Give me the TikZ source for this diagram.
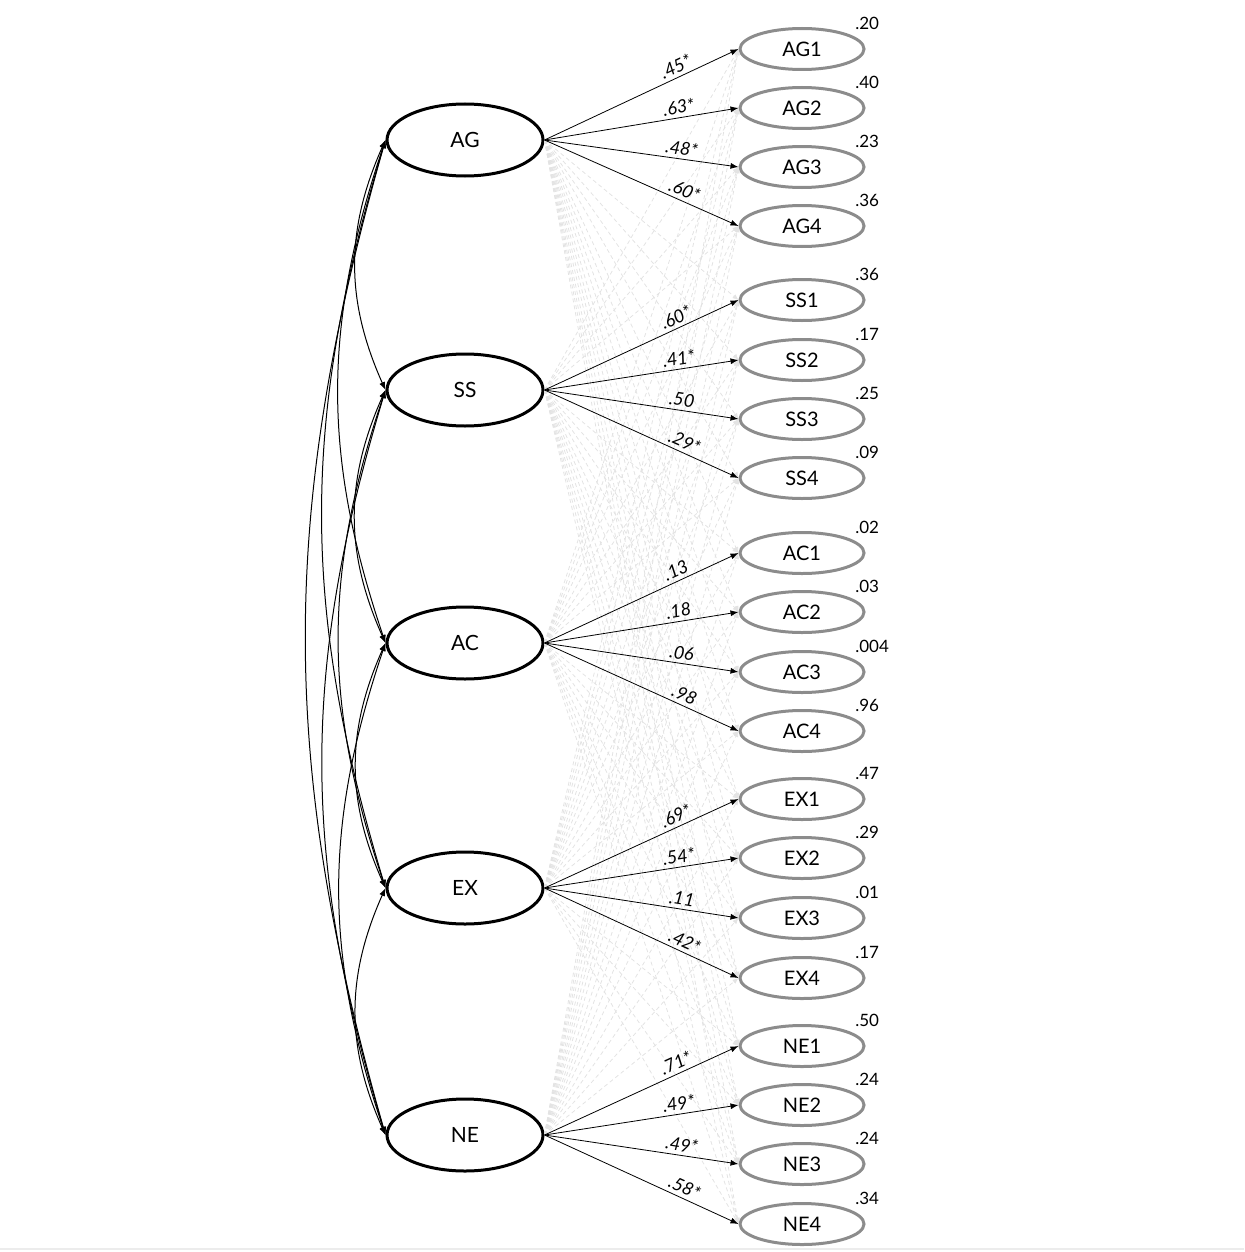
\documentclass[tikz,border=0pt]{standalone}
\usepackage{fontspec}
\setmainfont{Lato}
\usetikzlibrary{arrows.meta, bending, shapes.geometric}
\tikzstyle{sem}=[x=0.5pt, y=-0.5pt, >={Latex[length=4pt,width=3pt]}]
\tikzstyle{latent}=[ellipse, draw, line width=1.5pt, minimum width=78pt, minimum height=36pt, inner sep=0pt, font=\fontsize{10.5}{12}\selectfont]
\tikzstyle{manifest}=[ellipse, draw=black!45, line width=1.5pt, minimum width=62pt, minimum height=20.5pt, inner sep=0pt, font=\fontsize{10}{12}\selectfont]
\tikzstyle{load}=[font=\fontsize{9}{10}\selectfont\itshape, sloped, pos=.7, inner sep=0.5pt, outer sep=1.5pt]
\tikzstyle{rsq}=[font=\fontsize{8.5}{10}\selectfont, inner sep=0pt, xshift=4pt, yshift=1.5pt]
\tikzstyle{cross}=[draw=gray!22, dash pattern=on 2pt off 1.5pt, line width=0.4pt, -{Latex[length=3pt,width=2.5pt]}]
\tikzstyle{cov}=[<->, line width=0.5pt]

\begin{document}
\begin{tikzpicture}[sem, auto]
  \useasboundingbox (0,0) rectangle (1244,1252);
  \draw[gray!15, line width=1pt] (0,1249) -- (1244,1249);

  % factors
  \node[latent] (AG) at (465,140) {AG};
  \node[latent] (SS) at (465,390) {SS};
  \node[latent] (AC) at (465,643) {AC};
  \node[latent] (EX) at (465,888) {EX};
  \node[latent] (NE) at (465,1135) {NE};

  % items
  \node[manifest, label={[rsq]north east:.20}] (AG1) at (802,49) {AG1};
  \node[manifest, label={[rsq]north east:.40}] (AG2) at (802,108) {AG2};
  \node[manifest, label={[rsq]north east:.23}] (AG3) at (802,167) {AG3};
  \node[manifest, label={[rsq]north east:.36}] (AG4) at (802,226) {AG4};
  \node[manifest, label={[rsq]north east:.36}] (SS1) at (802,300) {SS1};
  \node[manifest, label={[rsq]north east:.17}] (SS2) at (802,360) {SS2};
  \node[manifest, label={[rsq]north east:.25}] (SS3) at (802,419) {SS3};
  \node[manifest, label={[rsq]north east:.09}] (SS4) at (802,478) {SS4};
  \node[manifest, label={[rsq]north east:.02}] (AC1) at (802,553) {AC1};
  \node[manifest, label={[rsq]north east:.03}] (AC2) at (802,612) {AC2};
  \node[manifest, label={[rsq]north east:.004}] (AC3) at (802,672) {AC3};
  \node[manifest, label={[rsq]north east:.96}] (AC4) at (802,731) {AC4};
  \node[manifest, label={[rsq]north east:.47}] (EX1) at (802,799) {EX1};
  \node[manifest, label={[rsq]north east:.29}] (EX2) at (802,858) {EX2};
  \node[manifest, label={[rsq]north east:.01}] (EX3) at (802,918) {EX3};
  \node[manifest, label={[rsq]north east:.17}] (EX4) at (802,978) {EX4};
  \node[manifest, label={[rsq]north east:.50}] (NE1) at (802,1046) {NE1};
  \node[manifest, label={[rsq]north east:.24}] (NE2) at (802,1105) {NE2};
  \node[manifest, label={[rsq]north east:.24}] (NE3) at (802,1164) {NE3};
  \node[manifest, label={[rsq]north east:.34}] (NE4) at (802,1224) {NE4};

  % cross loadings
  \foreach \f/\others in {AG/{SS,AC,EX,NE}, SS/{AG,AC,EX,NE}, AC/{AG,SS,EX,NE}, EX/{AG,SS,AC,NE}, NE/{AG,SS,AC,EX}}
    \foreach \g in \others
      \foreach \i in {1,...,4}
        \draw[cross] (\f.east) -- (\g\i.west);

  % loadings
  \path[->] (AG.east) edge node[load] {.45*} (AG1.west)
                      edge node[load] {.63*} (AG2.west)
                      edge node[load] {.48*} (AG3.west)
                      edge node[load] {.60*} (AG4.west);
  \path[->] (SS.east) edge node[load] {.60*} (SS1.west)
                      edge node[load] {.41*} (SS2.west)
                      edge node[load] {.50} (SS3.west)
                      edge node[load] {.29*} (SS4.west);
  \path[->] (AC.east) edge node[load] {.13} (AC1.west)
                      edge node[load] {.18} (AC2.west)
                      edge node[load] {.06} (AC3.west)
                      edge node[load] {.98} (AC4.west);
  \path[->] (EX.east) edge node[load] {.69*} (EX1.west)
                      edge node[load] {.54*} (EX2.west)
                      edge node[load] {.11} (EX3.west)
                      edge node[load] {.42*} (EX4.west);
  \path[->] (NE.east) edge node[load] {.71*} (NE1.west)
                      edge node[load] {.49*} (NE2.west)
                      edge node[load] {.49*} (NE3.west)
                      edge node[load] {.58*} (NE4.west);

  % covariances
  \path[cov] (AG.west) edge[bend right=25] (SS.west)
                       edge[bend right=19] (AC.west)
                       edge[bend right=17] (EX.west)
                       edge[bend right=16] (NE.west);
  \path[cov] (SS.west) edge[bend right=25] (AC.west)
                       edge[bend right=19] (EX.west)
                       edge[bend right=17] (NE.west);
  \path[cov] (AC.west) edge[bend right=25] (EX.west)
                       edge[bend right=19] (NE.west);
  \path[cov] (EX.west) edge[bend right=25] (NE.west);
\end{tikzpicture}
\end{document}
